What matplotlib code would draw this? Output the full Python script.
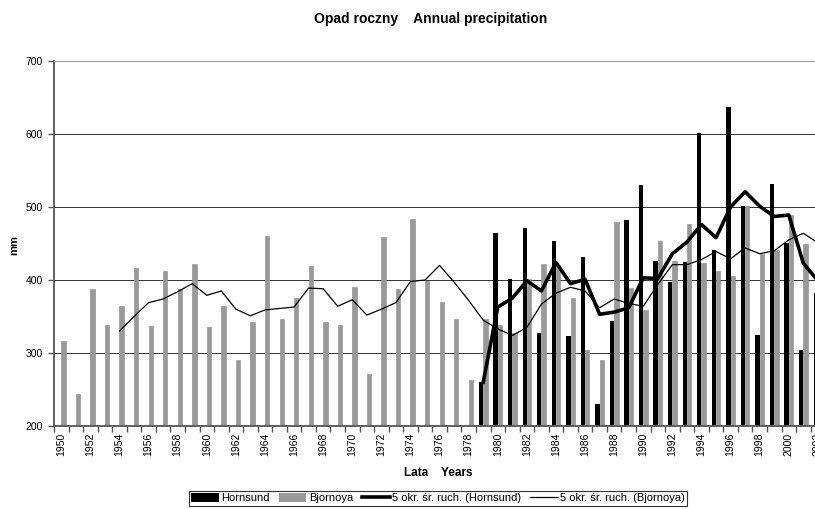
# Annual precipitation, Hornsund vs Bjornoya, with 5-yr moving averages
import numpy as np
import matplotlib.pyplot as plt
from matplotlib.patches import Patch
from matplotlib.lines import Line2D

plt.rcParams['font.family'] = ['Liberation Sans', 'DejaVu Sans']

# data (mm)
years = list(range(1950, 2003))
bjornoya = [316, 244, 388, 339, 364, 417, 337, 413, 388, 422,
            336, 365, 291, 343, 460, 346, 375, 419, 342, 339,
            390, 271, 459, 388, 483, 399, 370, 347, 263, 346,
            338, 328, 402, 422, 420, 376, 304, 290, 479, 389,
            359, 454, 426, 477, 423, 413, 406, 502, 436, 441,
            489, 450, 437]

hornsund_years = list(range(1979, 2003))
hornsund = [260, 465, 401, 471, 328, 454, 323, 431, 230, 344,
            482, 530, 426, 397, 424, 601, 441, 637, 502, 324,
            532, 451, 304, 382]

ma_bjornoya_years = list(range(1954, 2003))
ma_bjornoya = [330, 350, 369, 374, 384, 395, 379, 385, 360, 351,
               359, 361, 363, 389, 388, 364, 373, 352, 360, 369,
               398, 400, 420, 397, 372, 345, 333, 324, 335, 367,
               382, 390, 385, 362, 374, 368, 364, 394, 421, 421,
               428, 439, 429, 444, 436, 440, 455, 464, 451]

ma_hornsund_years = list(range(1979, 2003))
ma_hornsund = [260, 363, 375, 399, 385, 424, 395, 401, 353, 356,
               362, 403, 402, 436, 452, 476, 458, 500, 521, 501,
               487, 489, 423, 399]

W, H = 815, 509
fig = plt.figure(figsize=(W / 100, H / 100), dpi=100)
# plot area runs past the right edge, as in the source image
ax = fig.add_axes([54 / W, 1 - 426 / H, 53 * 14.55 / W, 365 / H])

x_b = np.array(years) - 1950
x_h = np.array(hornsund_years) - 1950
bw = 0.3
ax.bar(x_h - bw / 2, hornsund, bw, color='black', zorder=2)
ax.bar(x_b + bw / 2, bjornoya, bw, color='#999999', edgecolor='#8a8a8a',
       linewidth=0.4, zorder=2)

ax.plot(np.array(ma_hornsund_years) - 1950, ma_hornsund, color='black', lw=2.6, zorder=4)
ax.plot(np.array(ma_bjornoya_years) - 1950, ma_bjornoya, color='black', lw=0.9, zorder=4)

ax.set_xlim(-0.5, 52.5)
ax.set_ylim(200, 700)
ax.set_yticks(range(200, 701, 100))
ax.yaxis.grid(True, color='#333333', lw=0.7)
ax.set_axisbelow(True)

ax.spines['right'].set_visible(False)
ax.spines['top'].set_color('#999999')
ax.spines['top'].set_linewidth(0.8)
for s in ['left', 'bottom']:
    ax.spines[s].set_color('#555555')
    ax.spines[s].set_linewidth(1.3)

lab_years = years[::2]
ax.set_xticks([y - 1950 for y in lab_years])
ax.set_xticklabels([str(y) for y in lab_years], rotation=90, fontsize=7.5)
ax.set_xticks(np.arange(-0.5, 53, 1), minor=True)
ax.tick_params(axis='x', which='major', length=0, pad=5)
ax.tick_params(axis='x', which='minor', length=4, color='#555555', width=1)
ax.tick_params(axis='y', length=4, color='#555555', width=1, labelsize=7.5, pad=4)

fig.text(431 / W, 1 - 19 / H, 'Opad roczny    Annual precipitation',
         ha='center', va='center', fontsize=10, fontweight='bold')
fig.text(14 / W, 1 - 245 / H, 'mm', rotation=90, ha='center', va='center',
         fontsize=8, fontweight='bold')
fig.text(438 / W, 1 - 473 / H, 'Lata    Years', ha='center', va='center',
         fontsize=8.5, fontweight='bold')

handles = [Patch(facecolor='black'),
           Patch(facecolor='#999999'),
           Line2D([], [], color='black', lw=2.6),
           Line2D([], [], color='black', lw=0.9)]
labels = ['Hornsund', 'Bjornoya', '5 okr. śr. ruch. (Hornsund)',
          '5 okr. śr. ruch. (Bjornoya)']
leg = fig.legend(handles, labels, loc='upper center',
                 bbox_to_anchor=(438 / W, 1 - 491 / H), ncol=4, fontsize=8,
                 frameon=True, fancybox=False, edgecolor='black',
                 borderpad=0.2, handlelength=2.5, handleheight=0.8,
                 handletextpad=0.2, columnspacing=0.8, borderaxespad=0)
leg.get_frame().set_linewidth(0.8)

plt.savefig('out.png', dpi=100)
plt.close()
